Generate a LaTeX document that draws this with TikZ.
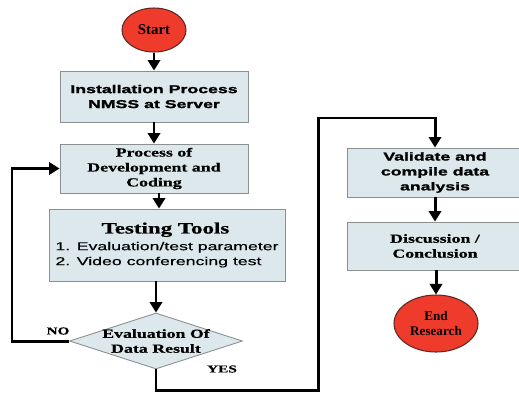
\documentclass[tikz,border=0pt]{standalone}
\usepackage{fontspec}
\setmainfont{Liberation Serif}
\newfontfamily\wideserif[FakeStretch=1.45,FakeBold=0.6]{Liberation Serif}
\newfontfamily\widesans[FakeStretch=1.55,FakeBold=0.4]{Liberation Sans}
\newfontfamily\blacksans[FakeStretch=1.55,FakeBold=1.6]{Liberation Sans}
\usetikzlibrary{shapes.geometric,arrows.meta}
\definecolor{boxfill}{HTML}{DCE8EB}
\definecolor{boxline}{HTML}{8A8F90}
\definecolor{termfill}{HTML}{EE3B2B}
\definecolor{termline}{HTML}{5A2A22}
\tikzset{
	process/.style={rectangle, draw=boxline, line width=0.5pt, fill=boxfill, align=center, inner sep=1pt},
	terminal/.style={ellipse, draw=termline, line width=0.6pt, fill=termfill, align=center, inner sep=0pt},
	decision/.style={diamond, draw=boxline, line width=0.5pt, fill=boxfill, inner sep=0pt},
	flow/.style={line width=1.7pt, -{Triangle[width=7pt,length=6pt]}},
	serifbox/.style={font=\wideserif\bfseries\fontsize{7}{8.5}\selectfont},
	sansbox/.style={font=\blacksans\bfseries\fontsize{6.5}{8.5}\selectfont},
	answer/.style={font=\wideserif\bfseries\fontsize{6}{7}\selectfont}
}
\begin{document}
\begin{tikzpicture}[x=0.02cm,y=-0.02cm]
	\useasboundingbox (0,0) rectangle (519,399);
	% left column
	\node[terminal, minimum width=1.28cm, minimum height=0.88cm, font=\bfseries\fontsize{8.5}{9}\selectfont] (start) at (154,30) {Start};
	\node[process, sansbox, minimum width=3.76cm, minimum height=1.02cm] (install) at (154,96.5) {Installation Process\\NMSS at Server};
	\node[process, serifbox, minimum width=3.76cm, minimum height=0.98cm] (develop) at (154,168.5) {Process of\\Development and\\Coding};
	\node[process, align=left, minimum width=4.72cm, minimum height=1.44cm, font=\widesans\fontsize{6.5}{8.5}\selectfont] (testing) at (167,245)
		{\makebox[4.4cm]{\wideserif\bfseries\fontsize{9}{10}\selectfont Testing Tools}\\[1pt]
		1. Evaluation/test parameter\\
		2. Video conferencing test};
	\node[decision, minimum width=3.46cm, minimum height=1.12cm, label={[serifbox, align=center]center:{Evaluation Of\\Data Result}}] (evaluate) at (156,341) {};
	% right column
	\node[process, sansbox, minimum width=3.52cm, minimum height=0.98cm] (validate) at (435,172.5) {Validate and\\compile data\\analysis};
	\node[process, serifbox, minimum width=3.52cm, minimum height=0.96cm] (discuss) at (435,246) {Discussion /\\Conclusion};
	\node[terminal, minimum width=1.68cm, minimum height=1.14cm, font=\bfseries\fontsize{7.5}{9}\selectfont] (finish) at (436,323.5) {End\\Research};
	% answers
	\node[answer] (no) at (58,331) {NO};
	\node[answer] (yes) at (222,369) {YES};
	\coordinate (noturn) at (12,341);
	\coordinate (yesdown) at (318,390);
	\coordinate (yesup) at (318,118);
	% connectors
	\draw[flow] (start) -- (install);
	\draw[flow] (install) -- (develop);
	\draw[flow] ([xshift=0.1cm]develop.south) -- ([xshift=0.1cm]develop.south |- testing.north);
	\draw[flow] (evaluate.north |- testing.south) -- (evaluate.north);
	\draw[flow] (evaluate.west) -- (noturn) |- (develop.west);
	\draw[flow] (evaluate.south) |- (yesdown) -- (yesup) -| (validate.north);
	\draw[flow] (validate) -- (discuss);
	\draw[flow] (finish.north |- discuss.south) -- (finish.north);
\end{tikzpicture}
\end{document}
